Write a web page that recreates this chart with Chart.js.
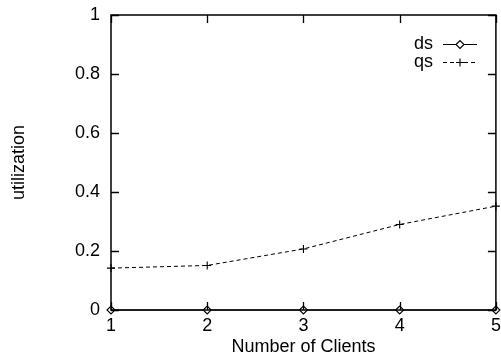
<!DOCTYPE html>
<html>
<head>
<meta charset="utf-8">
<script src="https://cdn.jsdelivr.net/npm/chart.js@4/dist/chart.umd.min.js"></script>
<style>
  html, body { margin: 0; padding: 0; background: #fff; }
  #wrap { width: 501px; height: 356px; }
</style>
</head>
<body>
<div id="wrap"><canvas id="c" width="501" height="356"></canvas></div>
<script>
// Utilization versus number of clients
const clients = [1, 2, 3, 4, 5];
const dsUtil = [0, 0, 0, 0, 0];
const qsUtil = [0.142, 0.151, 0.207, 0.290, 0.352];
const seriesNames = ['ds', 'qs'];
const xTitle = 'Number of Clients';
const yTitle = 'utilization';

const FONT = { family: '"Liberation Sans", Arial, Helvetica, sans-serif', size: 18 };

// Frame with inward tick marks on all four sides
const frameTicks = {
  id: 'frameTicks',
  afterDatasetsDraw(chart) {
    const { ctx, chartArea: a, scales } = chart;
    const len = 8;
    ctx.save();
    ctx.strokeStyle = '#000';
    ctx.lineWidth = 1.3;
    ctx.beginPath();
    scales.x.ticks.forEach(t => {
      const px = Math.round(scales.x.getPixelForValue(t.value)) + 0.5;
      ctx.moveTo(px, a.bottom); ctx.lineTo(px, a.bottom - len);
      ctx.moveTo(px, a.top); ctx.lineTo(px, a.top + len);
    });
    scales.y.ticks.forEach(t => {
      const py = Math.round(scales.y.getPixelForValue(t.value)) + 0.5;
      ctx.moveTo(a.left, py); ctx.lineTo(a.left + len, py);
      ctx.moveTo(a.right, py); ctx.lineTo(a.right - len, py);
    });
    ctx.stroke();
    ctx.lineWidth = 1.5;
    ctx.strokeRect(a.left, a.top, a.right - a.left, a.bottom - a.top);
    ctx.restore();
  }
};

// Key in the upper right corner: label, then line sample with its point
const keyBox = {
  id: 'keyBox',
  afterDraw(chart) {
    const { ctx } = chart;
    const textRight = 433, x0 = 443, x1 = 477, y0 = 44, dy = 18;
    ctx.save();
    chart.data.datasets.forEach((ds, i) => {
      const y = y0 + i * dy;
      ctx.fillStyle = '#000';
      ctx.font = `${FONT.size}px ${FONT.family}`;
      ctx.textAlign = 'right';
      ctx.textBaseline = 'middle';
      ctx.fillText(ds.label, textRight, y);
      ctx.strokeStyle = ds.borderColor;
      ctx.lineWidth = ds.borderWidth;
      ctx.setLineDash(ds.borderDash || []);
      ctx.beginPath();
      ctx.moveTo(x0, y + 0.5); ctx.lineTo(x1, y + 0.5);
      ctx.stroke();
      ctx.setLineDash([]);
      ctx.fillStyle = ds.pointBackgroundColor;
      ctx.strokeStyle = ds.pointBorderColor;
      ctx.lineWidth = ds.pointBorderWidth;
      Chart.helpers.drawPoint(ctx, {
        pointStyle: ds.pointStyle, radius: ds.pointRadius, rotation: 0, borderWidth: ds.pointBorderWidth
      }, (x0 + x1) / 2, y + 0.5);
    });
    ctx.restore();
  }
};

new Chart(document.getElementById('c'), {
  type: 'line',
  data: {
    datasets: [
      {
        label: seriesNames[0],
        data: clients.map((c, i) => ({ x: c, y: dsUtil[i] })),
        borderColor: '#000', borderWidth: 1.2,
        pointStyle: 'rectRot', pointRadius: 4,
        pointBackgroundColor: '#fff', pointBorderColor: '#000', pointBorderWidth: 1.1,
        clip: false
      },
      {
        label: seriesNames[1],
        data: clients.map((c, i) => ({ x: c, y: qsUtil[i] })),
        borderColor: '#000', borderWidth: 1, borderDash: [4, 3],
        pointStyle: 'cross', pointRadius: 4,
        pointBackgroundColor: '#000', pointBorderColor: '#000', pointBorderWidth: 1.1,
        clip: false
      }
    ]
  },
  options: {
    responsive: false,
    animation: false,
    devicePixelRatio: 1,
    layout: { padding: { top: 15, right: 5, left: 0, bottom: 0 } },
    plugins: { legend: { display: false }, tooltip: { enabled: false } },
    elements: { line: { tension: 0 } },
    scales: {
      x: {
        type: 'linear', min: 1, max: 5,
        ticks: { stepSize: 1, color: '#000', font: FONT, padding: 5, maxRotation: 0 },
        grid: { display: false, drawTicks: false },
        border: { display: false },
        title: { display: true, text: xTitle, color: '#000', font: { ...FONT, lineHeight: 1 }, padding: { top: 0, bottom: 0 } },
        afterFit(scale) {
          scale.height = 46;
          scale.paddingLeft = 0; scale.paddingRight = 0;
        }
      },
      y: {
        min: 0, max: 1,
        ticks: {
          stepSize: 0.2, color: '#000', font: FONT, padding: 11,
          callback: v => String(Math.round(v * 10) / 10)
        },
        grid: { display: false, drawTicks: false },
        border: { display: false },
        title: { display: true, text: yTitle, color: '#000', font: { ...FONT, lineHeight: 1 }, padding: { top: 10, bottom: 0 } },
        afterFit(scale) {
          scale.width = 111;
          scale.paddingTop = 0; scale.paddingBottom = 0;
        }
      }
    }
  },
  plugins: [frameTicks, keyBox]
});
</script>
</body>
</html>
